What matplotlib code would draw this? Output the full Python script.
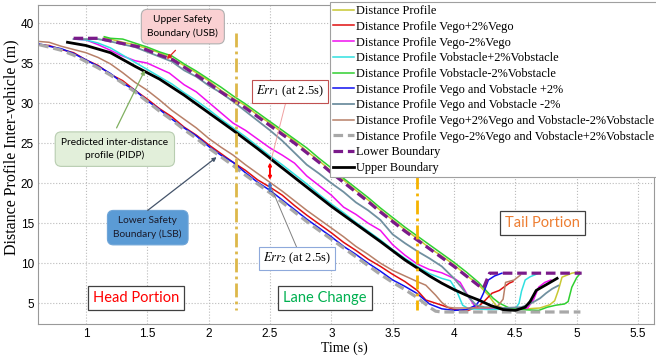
import matplotlib
matplotlib.use('Agg')
import matplotlib.pyplot as plt

# 거리 프로파일 데이터
t_dp = [1.15, 1.2, 1.3, 1.4, 1.5, 1.6, 1.7, 1.8, 1.9, 2.0, 2.1, 2.2, 2.3, 2.4, 2.5, 2.6, 2.7, 2.8, 2.9, 3.0,
        3.1, 3.2, 3.3, 3.4, 3.5, 3.6, 3.7, 3.8, 3.9, 4.0, 4.1, 4.2, 4.28, 4.34, 4.4, 4.5, 4.6, 4.7,
        4.78, 4.82, 4.85, 4.88, 4.96, 5.02]
d_dp = [38.2, 38.0, 37.6, 37.3, 36.8, 36.3, 35.6, 34.7, 33.8, 32.8, 31.6, 30.6, 29.7, 28.5, 27.5, 26.3, 25.3,
        24.0, 22.8, 21.5, 20.4, 19.1, 17.9, 16.6, 15.4, 14.2, 13.1, 11.9, 10.9, 9.8, 8.5, 7.3, 6.0, 4.75,
        4.4, 4.3, 4.3, 4.4, 4.8, 5.3, 6.6, 8.25, 8.75, 8.9]

t_r = [0.62, 0.7, 0.8, 0.9, 1.0, 1.1, 1.2, 1.3, 1.4, 1.5, 1.6, 1.7, 1.8, 1.9, 2.0, 2.1, 2.2, 2.3, 2.4, 2.5,
       2.6, 2.7, 2.8, 2.9, 3.0, 3.1, 3.2, 3.3, 3.4, 3.5, 3.6, 3.7, 3.77, 3.9, 4.0, 4.1, 4.2, 4.25, 4.31,
       4.37, 4.45, 4.48]
d_r = [37.3, 37.2, 36.7, 36.3, 35.4, 34.7, 33.6, 32.8, 31.6, 30.5, 29.3, 28.3, 27.0, 26.0, 24.8, 23.7, 22.6,
       21.6, 20.4, 19.5, 18.5, 17.2, 16.0, 14.9, 13.8, 12.6, 11.6, 10.5, 9.6, 8.6, 7.7, 6.6, 5.4, 4.75, 4.2,
       4.0, 4.6, 5.3, 6.25, 6.6, 7.5, 7.7]

t_m = [0.9, 1.0, 1.1, 1.2, 1.28, 1.4, 1.5, 1.6, 1.68, 1.8, 1.9, 2.0, 2.1, 2.2, 2.3, 2.4, 2.5, 2.6, 2.7, 2.8,
       2.9, 3.0, 3.1, 3.2, 3.3, 3.4, 3.5, 3.6, 3.7, 3.8, 3.9, 4.0, 4.05, 4.12, 4.18, 4.3, 4.45, 4.6, 4.65,
       4.69, 4.74, 4.79]
d_m = [38.0, 37.9, 37.3, 36.6, 36.0, 35.3, 35.0, 34.3, 33.75, 32.3, 31.4, 30.1, 28.8, 27.5, 26.6, 25.5, 24.4,
       23.5, 22.5, 20.9, 19.7, 18.5, 17.0, 16.1, 15.0, 14.1, 12.3, 11.0, 9.9, 9.2, 8.8, 8.1, 7.6, 5.75, 4.4,
       4.3, 4.2, 4.4, 5.5, 7.0, 7.6, 7.9]

t_c = [0.9, 1.0, 1.1, 1.2, 1.3, 1.4, 1.5, 1.6, 1.7, 1.8, 1.9, 2.0, 2.1, 2.2, 2.3, 2.4, 2.5, 2.6, 2.7, 2.8,
       2.9, 3.0, 3.1, 3.2, 3.3, 3.4, 3.5, 3.6, 3.7, 3.8, 3.9, 3.97, 4.02, 4.07, 4.12, 4.3, 4.5, 4.53, 4.55,
       4.58, 4.62, 4.69]
d_c = [38.0, 37.9, 37.5, 36.9, 36.0, 35.1, 34.2, 33.3, 32.4, 31.3, 30.3, 29.2, 28.0, 26.9, 25.8, 24.6, 23.4,
       22.3, 21.1, 19.9, 18.6, 17.4, 16.3, 15.1, 14.0, 12.9, 11.7, 10.6, 9.6, 8.7, 8.1, 7.8, 6.6, 4.75, 4.3,
       4.2, 4.3, 5.0, 6.5, 7.9, 8.3, 8.75]

t_g = [1.15, 1.2, 1.3, 1.4, 1.5, 1.6, 1.7, 1.8, 1.9, 2.0, 2.1, 2.2, 2.3, 2.4, 2.5, 2.6, 2.7, 2.8, 2.9, 3.0,
       3.1, 3.2, 3.3, 3.4, 3.5, 3.6, 3.7, 3.8, 3.9, 4.0, 4.1, 4.2, 4.26, 4.32, 4.37, 4.45, 4.55, 4.69,
       4.76, 4.83, 4.9, 4.93, 4.96, 5.0, 5.03]
d_g = [38.3, 38.1, 38.0, 37.5, 37.0, 36.4, 35.9, 34.9, 34.0, 33.0, 32.0, 30.9, 29.9, 28.8, 27.7, 26.6, 25.5,
       24.4, 23.1, 21.9, 20.6, 19.4, 18.2, 16.9, 15.7, 14.5, 13.4, 12.3, 11.2, 10.1, 8.9, 7.6, 6.6, 5.6,
       5.0, 4.4, 4.2, 4.1, 4.5, 4.75, 4.9, 5.2, 7.0, 8.2, 8.75]

t_b = [0.62, 0.7, 0.8, 0.9, 1.0, 1.1, 1.2, 1.3, 1.4, 1.5, 1.6, 1.7, 1.8, 1.9, 2.0, 2.1, 2.2, 2.3, 2.4, 2.5,
       2.6, 2.7, 2.8, 2.9, 3.0, 3.1, 3.2, 3.3, 3.4, 3.5, 3.6, 3.7, 3.8, 3.9, 4.0, 4.1, 4.18, 4.22, 4.24,
       4.28, 4.33, 4.39]
d_b = [37.4, 37.1, 36.8, 36.2, 35.4, 34.6, 33.7, 32.5, 31.6, 30.3, 29.2, 28.0, 26.9, 25.9, 24.6, 23.5, 22.6,
       21.3, 20.1, 19.1, 17.9, 16.7, 15.5, 14.4, 13.3, 12.1, 11.1, 10.0, 9.0, 7.9, 7.1, 6.2, 4.9, 4.3, 4.1,
       4.2, 4.75, 5.6, 6.25, 7.9, 8.4, 8.75]

t_s = [0.9, 1.1, 1.2, 1.4, 1.6, 1.7, 1.8, 1.9, 2.0, 2.1, 2.2, 2.3, 2.4, 2.5, 2.6, 2.7, 2.8, 2.9, 3.0, 3.1,
       3.2, 3.3, 3.4, 3.5, 3.6, 3.7, 3.8, 3.9, 4.0, 4.06, 4.12, 4.18, 4.25, 4.4, 4.55, 4.63, 4.7, 4.75,
       4.8, 4.85]
d_s = [38.0, 38.0, 37.7, 37.0, 35.8, 35.2, 34.1, 33.3, 32.2, 31.3, 30.2, 29.0, 27.8, 26.6, 25.3, 23.8, 22.3,
       21.2, 20.0, 18.9, 17.6, 16.6, 15.4, 13.6, 12.5, 11.5, 10.6, 9.6, 8.1, 7.0, 5.75, 4.75, 4.5, 4.4,
       4.5, 5.0, 5.6, 6.25, 6.8, 7.2]

t_br = [0.62, 0.7, 0.8, 0.9, 1.0, 1.1, 1.2, 1.3, 1.4, 1.5, 1.6, 1.7, 1.8, 1.9, 2.0, 2.1, 2.2, 2.3, 2.4, 2.5,
        2.6, 2.7, 2.8, 2.9, 3.0, 3.1, 3.2, 3.3, 3.4, 3.5, 3.6, 3.7, 3.77, 3.85, 3.9, 3.95, 4.0, 4.2, 4.35,
        4.4, 4.42, 4.49, 4.54]
d_br = [37.7, 37.6, 37.1, 36.7, 36.3, 35.7, 34.9, 33.8, 32.6, 31.6, 30.4, 29.1, 28.0, 26.9, 25.6, 24.5, 23.5,
        22.3, 21.2, 20.1, 19.0, 17.8, 16.6, 15.5, 14.4, 13.3, 12.1, 11.1, 10.0, 9.1, 8.4, 7.7, 7.25, 6.0,
        5.1, 4.5, 4.4, 4.4, 4.5, 5.5, 7.6, 7.9, 8.5]

t_gd = [0.62, 0.7, 0.8, 0.9, 1.0, 1.1, 1.2, 1.3, 1.4, 1.5, 1.6, 1.7, 1.8, 1.9, 2.0, 2.1, 2.2, 2.3, 2.4, 2.5,
        2.6, 2.7, 2.8, 2.9, 3.0, 3.1, 3.2, 3.3, 3.4, 3.5, 3.6, 3.7, 3.8, 3.85, 3.9, 5.03]
d_gd = [37.3, 37.0, 36.6, 36.0, 35.2, 34.4, 33.5, 32.5, 31.4, 30.2, 29.0, 27.9, 26.7, 25.6, 24.4, 23.3, 22.2,
        21.0, 19.9, 18.8, 17.6, 16.4, 15.2, 14.1, 13.0, 11.9, 10.8, 9.7, 8.6, 7.6, 6.7, 5.7, 4.5, 4.0, 3.9,
        3.9]

# 하한 / 상한 경계
t_lb = [0.9, 1.1, 1.25, 1.44, 1.6, 1.71, 1.8, 1.9, 2.0, 2.1, 2.2, 2.3, 2.4, 2.5, 2.6, 2.7, 2.8, 2.9, 3.0,
        3.1, 3.2, 3.3, 3.4, 3.5, 3.6, 3.7, 3.8, 3.9, 4.0, 4.1, 4.2, 4.24, 4.29, 5.04]
d_lb = [38.1, 38.1, 37.6, 37.0, 36.0, 35.4, 34.5, 33.5, 32.5, 31.4, 30.4, 29.4, 28.3, 27.2, 26.1, 25.0, 23.8,
        22.6, 21.3, 20.1, 18.9, 17.7, 16.4, 15.2, 14.0, 12.9, 11.8, 10.7, 9.6, 8.4, 7.2, 6.9, 8.75, 8.75]

t_ub = [0.85, 1.0, 1.2, 1.4, 1.6, 1.8, 2.0, 2.2, 2.4, 2.6, 2.8, 3.0, 3.2, 3.4, 3.6, 3.8, 3.9, 4.0, 4.1, 4.2,
        4.3, 4.4, 4.5, 4.58, 4.62, 4.67, 4.75, 4.84]
d_ub = [37.6, 37.2, 36.3, 34.6, 33.0, 31.0, 28.8, 26.6, 24.3, 21.9, 19.5, 17.1, 14.9, 12.7, 10.4, 8.4, 7.5,
        6.7, 6.0, 5.4, 4.7, 4.2, 4.1, 4.5, 5.2, 6.6, 7.3, 8.1]

x_ticks = [1, 1.5, 2, 2.5, 3, 3.5, 4, 4.5, 5, 5.5]
y_ticks = [5, 10, 15, 20, 25, 30, 35, 40]

serif = 'Liberation Serif'
sans = 'Liberation Sans'
box_font = 'Lato'
plt.rcParams['mathtext.fontset'] = 'stix'

fig = plt.figure(figsize=(6.56, 3.6), dpi=100)
ax = fig.add_axes([0.058, 0.1, 0.939, 0.887])

ax.plot(t_dp, d_dp, color='#C8C832', lw=1.1, label='Distance Profile')
ax.plot(t_r, d_r, color='#E01010', lw=1.1, label='Distance Profile Vego+2%Vego')
ax.plot(t_m, d_m, color='#F010F0', lw=1.1, label='Distance Profile Vego-2%Vego')
ax.plot(t_c, d_c, color='#30E0E0', lw=1.1, label='Distance Profile Vobstacle+2%Vobstacle')
ax.plot(t_g, d_g, color='#30D030', lw=1.1, label='Distance Profile Vobstacle-2%Vobstacle')
ax.plot(t_b, d_b, color='#1010F0', lw=1.1, label='Distance Profile Vego and Vobstacle +2%')
ax.plot(t_s, d_s, color='#7090A0', lw=1.3, label='Distance Profile Vego and Vobstacle -2%')
ax.plot(t_br, d_br, color='#B88068', lw=1.1,
        label='Distance Profile Vego+2%Vego and Vobstacle-2%Vobstacle')
ax.plot(t_gd, d_gd, color='#A8A8A8', lw=2.3, dashes=(3, 1.5),
        label='Distance Profile Vego-2%Vego and Vobstacle+2%Vobstacle')
ax.plot(t_lb, d_lb, color='#7A1A8A', lw=2.3, dashes=(3, 1.5), label='Lower Boundary')
ax.plot(t_ub, d_ub, color='black', lw=2.0, label='Upper Boundary')

# 구간 경계선
ax.plot([2.22, 2.22], [38.75, 4.1], color='#DDB84A', lw=2.0, dashes=(5, 1.5, 1, 1.5))
ax.plot([3.70, 3.70], [21.0, 4.1], color='#F5B300', lw=2.0, dashes=(5, 1.5, 1, 1.5))

ax.set_xlim(0.61, 5.63)
ax.set_ylim(2.4, 42.3)
ax.set_xticks(x_ticks)
ax.set_xticklabels([f'{v:g}' for v in x_ticks], fontfamily=sans, fontsize=8.5)
ax.set_yticks(y_ticks)
ax.set_yticklabels([str(v) for v in y_ticks], fontfamily=sans, fontsize=8.5)
ax.tick_params(length=0, pad=3)
ax.grid(True, color='#BBBBBB', linestyle=':', lw=0.8)
for sp in ax.spines.values():
    sp.set_color('#999999')

ax.set_xlabel('Time (s)', fontfamily=serif, fontsize=10)
ax.set_ylabel('Distance Profile Inter-vehicle (m)', fontfamily=serif, fontsize=11.5)
ax.xaxis.set_label_coords(0.498, -0.055)
ax.yaxis.set_label_coords(-0.03, 0.555)

arrow_kw = dict(shrinkA=0, shrinkB=0, mutation_scale=6, lw=0.9)

# 주석 박스
ax.text(1.79, 39.56, 'Upper Safety\nBoundary (USB)', fontfamily=box_font, fontsize=7.3, ha='center',
        va='center', zorder=6, linespacing=1.5,
        bbox=dict(boxstyle='round,pad=0.6,rounding_size=0.6', fc='#FAD0D2', ec='#B0B0B0', lw=0.8))
ax.annotate('', xy=(1.66, 35.5), xytext=(1.73, 36.6), zorder=6,
            arrowprops=dict(arrowstyle='-|>', color='#E02020', **arrow_kw))

ax.text(1.236, 24.25, 'Predicted inter-distance\nprofile (PIDP)', fontfamily=box_font, fontsize=7.3,
        ha='center', va='center', zorder=6, linespacing=1.5,
        bbox=dict(boxstyle='round,pad=0.6,rounding_size=0.6', fc='#E2EFDA', ec='#B8CDB0', lw=0.8))
ax.annotate('', xy=(1.48, 34.1), xytext=(1.25, 26.9), zorder=6,
            arrowprops=dict(arrowstyle='-|>', color='#80B060', **arrow_kw))

ax.text(1.504, 14.44, 'Lower Safety\nBoundary (LSB)', fontfamily=box_font, fontsize=7.3, ha='center',
        va='center', zorder=6, linespacing=1.5, color='#1A1A2A',
        bbox=dict(boxstyle='round,pad=0.6,rounding_size=0.6', fc='#5B9BD5', ec='#6FA5D8', lw=0.8))
ax.annotate('', xy=(2.065, 23.25), xytext=(1.504, 16.6), zorder=6,
            arrowprops=dict(arrowstyle='-|>', color='#44546A', **arrow_kw))

ax.text(2.663, 31.44, '$Err_1$ (at 2.5s)', fontfamily=serif, fontsize=9, ha='center', va='center', zorder=6,
        bbox=dict(boxstyle='square,pad=0.3', fc='white', ec='#C05050', lw=0.8))
ax.plot([2.634, 2.51], [30.4, 22.9], color='#F0A0A0', lw=0.7, zorder=5)
ax.annotate('', xy=(2.5, 22.6), xytext=(2.5, 20.4), zorder=6,
            arrowprops=dict(arrowstyle='<|-|>', color='#FF0000', shrinkA=0, shrinkB=0,
                            mutation_scale=4, lw=1.4))

ax.text(2.72, 10.6, '$Err_2$ (at 2.5s)', fontfamily=serif, fontsize=9, ha='center', va='center', zorder=6,
        bbox=dict(boxstyle='square,pad=0.3', fc='white', ec='#8EA9DB', lw=0.8))
ax.plot([2.72, 2.52], [11.9, 19.1], color='#808080', lw=0.7, zorder=5)
ax.annotate('', xy=(2.5, 20.2), xytext=(2.5, 18.75), zorder=6,
            arrowprops=dict(arrowstyle='<|-|>', color='#4472C4', shrinkA=0, shrinkB=0,
                            mutation_scale=4, lw=1.4))

# 구간 이름
for x, y, txt, col in [(1.41, 5.625, 'Head Portion', '#FF0000'),
                       (2.95, 5.625, 'Lane Change', '#00B050'),
                       (4.72, 15.0, 'Tail Portion', '#ED7D31')]:
    ax.text(x, y, txt, fontfamily=box_font, fontsize=10.5, color=col, ha='center', va='center', zorder=6,
            bbox=dict(boxstyle='square,pad=0.35', fc='white', ec='#404040', lw=0.9))

leg = ax.legend(loc='upper left', bbox_to_anchor=(330 / 656, 358 / 360), bbox_transform=fig.transFigure,
                prop={'family': serif, 'size': 8.9}, labelspacing=0.3, handlelength=1.7,
                handletextpad=0.15, borderpad=0.25, borderaxespad=0, fancybox=False, framealpha=1,
                edgecolor='#A0A0A0')
leg.set_zorder(10)
leg.get_frame().set_linewidth(0.8)

plt.savefig('out.png', dpi=100)
